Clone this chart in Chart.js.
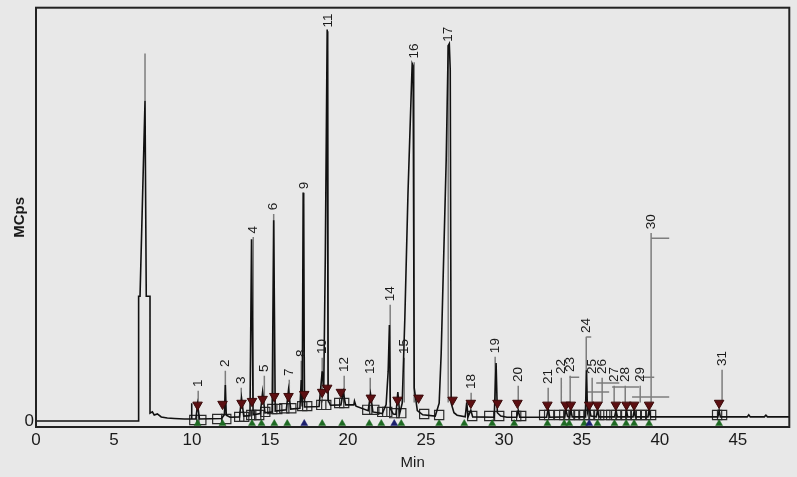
<!DOCTYPE html>
<html><head><meta charset="utf-8">
<script src="https://cdn.jsdelivr.net/npm/chart.js@4/dist/chart.umd.min.js"></script>
<style>html,body{margin:0;padding:0;background:#e8e8e8;overflow:hidden}</style>
</head><body><canvas id="c" width="797" height="477"></canvas>
<script>
// ---- data ----
const xTicks = [0, 5, 10, 15, 20, 25, 30, 35, 40, 45];
const yTicks = [0];

const traceTime = [0, 6.58, 6.58, 6.67, 6.99, 7.07, 7.31, 7.31, 7.46, 7.58, 7.78, 8.03, 8.42, 8.87, 9.51, 9.94, 9.97, 10.0,
  10.25, 10.36, 10.48, 11.9, 12.08, 12.14, 12.2, 12.45, 13.05, 13.18, 13.32, 13.72, 13.82, 13.92, 14.38, 14.53, 14.68,
  15.14, 15.24, 15.34, 16.05, 16.19, 16.33, 16.92, 17.01, 17.07, 17.13, 17.22, 18.15, 18.35, 18.45, 18.55, 18.67, 18.73,
  18.88, 19.55, 19.70, 19.85, 20.38, 20.42, 20.52, 21.3, 21.45, 21.6, 22.2, 22.45, 22.58, 22.66, 22.72, 22.9, 23.08, 23.2,
  23.32, 23.48, 23.65, 23.85, 24.02, 24.12, 24.18, 24.25, 24.45, 24.8, 25.6, 25.85, 25.98, 26.30, 26.43, 26.50, 26.56,
  26.62, 26.8, 27.0, 27.52, 27.62, 27.7, 27.88, 28.0, 29.38, 29.50, 29.58, 29.8, 30.2, 30.82, 30.92, 31.02, 32.74, 32.84,
  32.94, 33.9, 33.97, 34.08, 34.22, 34.29, 34.38, 35.22, 35.30, 35.36, 35.47, 35.58, 35.93, 36.0, 36.1, 37.1, 37.18,
  37.28, 37.8, 37.86, 37.94, 38.28, 38.35, 38.43, 39.24, 39.31, 39.4, 43.72, 43.80, 43.88, 45.6, 45.7, 45.8, 46.7, 46.8,
  46.9, 48.3];
const traceSignal = [0, 0, 30.2, 30.2, 77.5, 30.2, 30.2, 1.9, 2.2, 1.45, 1.7, 0.97, 0.72, 0.6, 0.48, 0.48, 4.3, 0.5,
  0.5, 4.0, 0.5, 0.6, 1.5, 8.7, 1.4, 0.9, 1.0, 5.5, 1.2, 1.3, 44.0, 1.5, 1.8, 7.0, 2.0,
  2.2, 48.6, 2.4, 2.7, 7.5, 2.9, 3.1, 9.9, 3.5, 55.3, 3.4, 3.5, 12.0, 8.0, 40.0, 94.7, 5.0,
  3.8, 3.9, 7.0, 3.9, 3.9, 4.8, 3.6, 2.5, 6.5, 2.2, 1.8, 4.0, 12.0, 23.2, 3.0, 1.7, 1.6, 7.0,
  1.8, 4.3, 25, 55, 75, 86.5, 86, 8, 2.5, 1.5, 1.2, 4.3, 16.4, 63, 90.8, 91.3, 85,
  4.3, 2.0, 1.4, 1.0, 4.5, 1.0, 2.6, 1.0, 0.9, 14.0, 2.0, 1.2, 0.9, 0.9, 2.6, 0.9, 0.9, 3.0,
  0.9, 1.0, 2.8, 1.1, 1.0, 2.8, 1.0, 1.0, 12.3, 2.0, 3.5, 1.2, 1.0, 2.6, 1.0, 1.0, 2.5,
  1.0, 1.0, 2.6, 1.0, 1.0, 2.4, 1.0, 1.0, 2.6, 1.0, 1.0, 2.5, 1.0, 1.0, 1.5, 1.0, 1.0, 1.4,
  1.0, 1.0];

const peakLabels = ['1','2','3','4','5','6','7','8','9','10','11','12','13','14','15','16','17','18','19','20',
  '21','22','23','24','25','26','27','28','29','30','31'];
const labelTime = [10.40, 12.14, 13.16, 13.93, 14.64, 15.24, 16.24, 17.01, 17.20, 18.35, 18.74, 19.76, 21.43, 22.71,
  23.61, 24.25, 26.43, 27.90, 29.44, 30.92, 32.84, 33.68, 34.25, 35.28, 35.66, 36.30, 37.07, 37.78, 38.74, 39.44, 43.99];
const labelSignal = [7.73, 12.56, 8.45, 44.9, 11.35, 50.5, 10.39, 14.98, 55.6, 15.70, 94.7, 11.35, 10.87, 28.5,
  15.70, 87.2, 91.3, 7.25, 15.94, 8.94, 8.45, 10.87, 11.35, 20.8, 10.87, 10.87, 8.94, 8.94, 8.94, 45.9, 12.8];

// connector brackets between labels and peaks [t1, v1, t2, v2]
const connectorSegments = [
  [6.99, 77.5, 6.99, 88.9],
  [34.19, 10.6, 34.83, 10.6],
  [35.28, 20.3, 35.60, 20.3],
  [35.92, 9.18, 37.40, 9.18],
  [35.34, 7.0, 36.75, 7.0],
  [36.94, 8.21, 38.67, 8.21],
  [38.62, 10.6, 39.64, 10.6],
  [39.44, 44.2, 40.60, 44.2],
  [38.22, 5.8, 40.60, 5.8]
];

// peak apex markers (dark red)
const markerTime = [10.36, 11.96, 13.18, 13.85, 14.53, 15.28, 16.19, 17.20, 18.35, 18.67, 19.55, 21.47, 23.18, 24.53,
  26.71, 27.88, 29.59, 30.87, 32.79, 33.97, 34.29, 35.47, 36.0, 37.18, 37.86, 38.35, 39.31, 43.80];
const markerSignal = [3.9, 4.1, 4.35, 4.8, 5.3, 6.0, 6.0, 6.5, 7.0, 8.0, 7.0, 5.6, 5.1, 5.6,
  5.1, 4.35, 4.35, 4.35, 3.9, 3.9, 3.9, 3.9, 3.9, 3.9, 3.9, 3.9, 3.9, 4.35];

// peak start / end boxes
const boundaryTime = [10.15, 10.60, 11.62, 12.20, 13.03, 13.35, 13.80, 14.12, 14.31, 14.70, 15.15, 15.47, 15.92, 16.37,
  17.07, 17.39, 18.29, 18.61, 19.44, 19.76, 21.24, 21.69, 22.20, 22.52, 22.97, 23.42, 24.89, 25.85, 27.97, 29.06, 29.70,
  30.79, 31.11, 32.58, 32.90, 33.54, 33.87, 34.19, 34.51, 34.83, 35.15, 35.47, 35.79, 36.11, 36.50, 36.88, 37.20, 37.52,
  37.84, 38.16, 38.47, 38.79, 39.11, 39.44, 43.67, 43.99];
const boundarySignal = [0.24, 0.24, 0.5, 0.5, 1.0, 1.0, 1.45, 1.45, 1.45, 2.2, 2.9, 2.9, 3.1, 3.1,
  3.6, 3.6, 3.9, 3.9, 4.35, 4.35, 2.7, 2.7, 2.2, 2.2, 1.9, 1.9, 1.7, 1.45, 1.2, 1.2, 1.2,
  1.2, 1.2, 1.45, 1.45, 1.45, 1.45, 1.45, 1.45, 1.45, 1.45, 1.45, 1.45, 1.45, 1.45, 1.45, 1.45, 1.45,
  1.45, 1.45, 1.45, 1.45, 1.45, 1.45, 1.45, 1.45];

// detection flags along the bottom (g = green, b = blue)
const detectTime = [10.36, 11.96, 13.85, 14.46, 15.28, 16.11, 17.20, 18.35, 19.63, 21.37, 22.14, 22.97, 23.42, 25.85,
  27.46, 29.25, 30.66, 32.79, 33.87, 34.19, 35.15, 35.47, 36.0, 37.09, 37.84, 38.35, 39.31, 43.80];
const detectKind = ['g','g','g','g','g','g','b','g','g','g','g','b','g','g',
  'g','g','g','g','g','g','g','b','g','g','g','g','g','g'];
const detectLevel = -0.6;

// ---- build chart ----
const FONT = "'Liberation Sans', Arial, Helvetica, sans-serif";
const leaderEnd = 4.5;
const leaderData = [];
labelTime.forEach((t, i) => {
  leaderData.push({x: t, y: labelSignal[i] - 0.4}, {x: t, y: leaderEnd}, {x: t, y: null});
});
connectorSegments.forEach(s => {
  leaderData.push({x: s[0], y: s[1]}, {x: s[2], y: s[3]}, {x: s[2], y: null});
});

const bgPlugin = {
  id: 'bg',
  beforeDraw(chart) {
    const c = chart.ctx;
    c.save(); c.fillStyle = '#e8e8e8'; c.fillRect(0, 0, chart.width, chart.height); c.restore();
  }
};
const framePlugin = {
  id: 'frame',
  afterDatasetsDraw(chart) {
    const {ctx, chartArea: a, scales} = chart;
    ctx.save();
    ctx.fillStyle = '#1a1a1a';
    ctx.font = '13.5px ' + FONT;
    ctx.textAlign = 'left';
    ctx.textBaseline = 'middle';
    peakLabels.forEach((lab, i) => {
      const px = scales.x.getPixelForValue(labelTime[i]);
      const py = scales.y.getPixelForValue(labelSignal[i]);
      ctx.save();
      ctx.translate(px, py - 2);
      ctx.rotate(-Math.PI / 2);
      ctx.fillText(lab, 0, 0);
      ctx.restore();
    });
    ctx.strokeStyle = '#222';
    ctx.lineWidth = 2;
    ctx.strokeRect(a.left, a.top, a.right - a.left, a.bottom - a.top);
    ctx.restore();
  }
};

new Chart(document.getElementById('c'), {
  type: 'scatter',
  data: {
    datasets: [
      {
        label: 'leaders', order: 6, showLine: true, spanGaps: false,
        data: leaderData, borderColor: '#7d7d7d', borderWidth: 1.5, pointRadius: 0
      },
      {
        label: 'boundaries', order: 5,
        data: boundaryTime.map((t, i) => ({x: t, y: boundarySignal[i]})),
        pointStyle: 'rect', pointRadius: 6.5, backgroundColor: 'rgba(0,0,0,0)',
        borderColor: '#2a2a2a', borderWidth: 1.2
      },
      {
        label: 'trace', order: 4, showLine: true,
        data: traceTime.map((t, i) => ({x: t, y: traceSignal[i]})),
        borderColor: '#111', borderWidth: 1.6, pointRadius: 0, tension: 0
      },
      {
        label: 'markers', order: 3,
        data: markerTime.map((t, i) => ({x: t, y: markerSignal[i]})),
        pointStyle: 'triangle', rotation: 180, pointRadius: 5.5,
        backgroundColor: '#5c0f12', borderColor: '#3a0a0a', borderWidth: 1
      },
      {
        label: 'detect', order: 2,
        data: detectTime.map(t => ({x: t, y: detectLevel})),
        pointStyle: 'triangle', pointRadius: 4,
        backgroundColor: detectKind.map(k => k === 'b' ? '#1b1f6e' : '#1e6a23'),
        borderColor: detectKind.map(k => k === 'b' ? '#1b1f6e' : '#1e6a23'), borderWidth: 0.5
      }
    ]
  },
  options: {
    responsive: false, animation: false,
    layout: {padding: {top: 7, right: 7, left: 0, bottom: 0}},
    plugins: {legend: {display: false}, tooltip: {enabled: false}},
    scales: {
      x: {
        type: 'linear', min: 0, max: 48.3,
        afterBuildTicks: s => { s.ticks = xTicks.map(v => ({value: v})); },
        afterFit: s => { s.height = 50; s.paddingLeft = 0; s.paddingRight = 0; },
        grid: {display: false, drawTicks: false},
        border: {display: false},
        ticks: {padding: 3, color: '#1a1a1a', font: {family: FONT, size: 17}, maxRotation: 0},
        title: {display: true, text: 'Min', color: '#1a1a1a', font: {family: FONT, size: 15}, padding: {top: 0, bottom: 5}}
      },
      y: {
        type: 'linear', min: -1.45, max: 100,
        afterBuildTicks: s => { s.ticks = yTicks.map(v => ({value: v})); },
        afterFit: s => { s.width = 36; s.paddingTop = 0; s.paddingBottom = 0; },
        grid: {display: false, drawTicks: false},
        border: {display: false},
        ticks: {padding: 2, color: '#1a1a1a', font: {family: FONT, size: 17}},
        title: {display: true, text: 'MCps', color: '#1a1a1a', font: {family: FONT, size: 15, weight: 'bold'}, padding: {top: 11, bottom: 0}}
      }
    }
  },
  plugins: [bgPlugin, framePlugin]
});
</script>
</body></html>
